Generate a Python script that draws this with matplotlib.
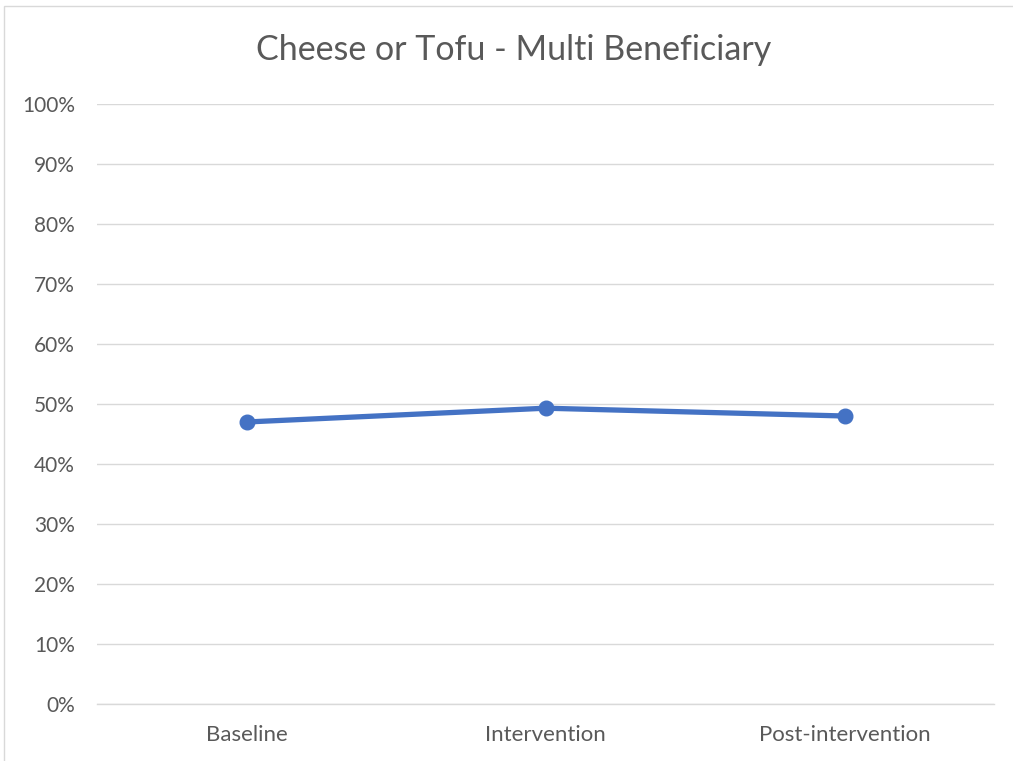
import matplotlib
matplotlib.use("Agg")
import matplotlib.pyplot as plt
from matplotlib.ticker import PercentFormatter, MultipleLocator
from matplotlib.patches import Rectangle

categories = ["Baseline", "Intervention", "Post-intervention"]
values = [0.47, 0.493, 0.48]
title = "Cheese or Tofu - Multi Beneficiary"

plt.rcParams["font.family"] = ["Lato", "DejaVu Sans"]

fig = plt.figure(figsize=(10.13, 7.61), dpi=100)
ax = fig.add_axes([97 / 1013, 1 - 704 / 761, (994 - 97) / 1013, 600 / 761])

x = list(range(len(categories)))
ax.plot(x, values, color="#4472C4", linewidth=3.8, marker="o", markersize=10.5,
        solid_capstyle="round", zorder=3)

ax.set_xlim(-0.5, len(categories) - 0.5)
ax.set_ylim(0, 1)
ax.yaxis.set_major_locator(MultipleLocator(0.1))
ax.yaxis.set_major_formatter(PercentFormatter(1.0, decimals=0))
ax.set_xticks(x)
ax.set_xticklabels(categories)

ax.grid(axis="y", color="#D9D9D9", linewidth=1)
ax.set_axisbelow(True)
for side in ["top", "right", "left"]:
    ax.spines[side].set_visible(False)
ax.spines["bottom"].set_color("#D9D9D9")
ax.spines["bottom"].set_linewidth(1)
ax.tick_params(axis="both", length=0, colors="#595959")
ax.tick_params(axis="x", labelsize=16, pad=15)
ax.tick_params(axis="y", labelsize=15, pad=16)

fig.text(514 / 1013, 1 - 50 / 761, title, ha="center", va="center",
         fontsize=24.5, color="#595959")

# Chart-area frame (left and top edges visible)
fig.patches.append(Rectangle((3.5 / 1013, -0.01), 1.0, 1.01 - 5.5 / 761,
                             transform=fig.transFigure, fill=False,
                             edgecolor="#D9D9D9", linewidth=1))

fig.savefig("out.png", dpi=100)
